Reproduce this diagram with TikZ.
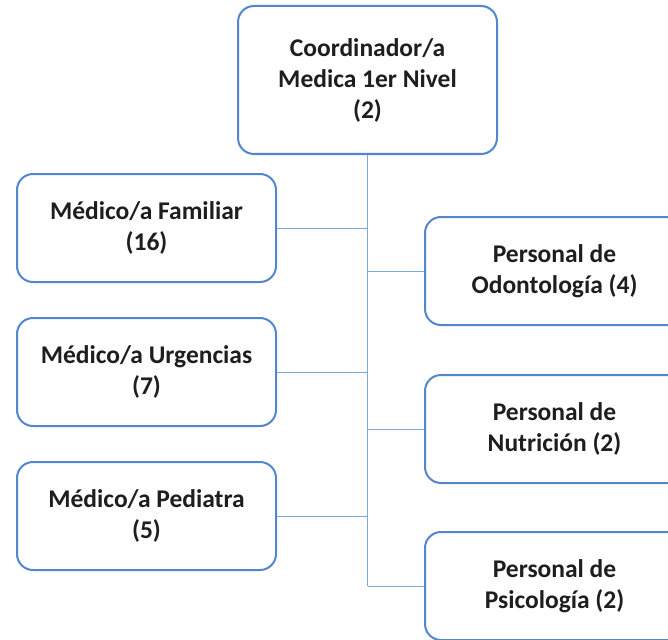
\documentclass[tikz,border=0pt]{standalone}
\usepackage{fontspec}
\setmainfont{Carlito}
\usepackage{tikz}
\usetikzlibrary{positioning}
\definecolor{boxblue}{RGB}{84,134,204}
\definecolor{lineblue}{RGB}{125,165,222}
\definecolor{inkgray}{RGB}{30,30,30}
\tikzstyle{unit} = [rectangle, draw=boxblue, line width=2pt, rounded corners=16pt,
fill=white, text=inkgray, align=center, minimum width=259pt, minimum height=108pt,
font=\bfseries\fontsize{25.5}{31}\selectfont]
\tikzstyle{head} = [unit, minimum height=148pt]
\tikzstyle{link} = [draw=lineblue, line width=1pt]
\newcommand{\branchleft}[2]{ %
  % Connect nodes #2 to the trunk below #1.
  \foreach \x in {#2} { %
    \path (\x.east) edge [link] (\x.east -| #1.south) ;%
  } ;
}
\newcommand{\branchright}[2]{ %
  \foreach \x in {#2} { %
    \path (\x.west -| #1.south) edge [link] (\x.west) ;%
  } ;
}

\begin{document}
\begin{tikzpicture}[x=1pt,y=-1pt]
    \useasboundingbox (0,0) rectangle (668,639);
    \clip (0,0) rectangle (668,639);
    \node[head](coord) at (367.5,80) {Coordinador/a\\Medica 1er Nivel\\(2)};
    \node[unit](fam) at (146.5,228) {Médico/a Familiar\\(16)};
    \node[unit](urg) at (146.5,372) {Médico/a Urgencias\\(7)};
    \node[unit](ped) at (146.5,516) {Médico/a Pediatra\\(5)};
    \node[unit](odon) at (554.5,271) {Personal de\\Odontología (4)};
    \node[unit](nutri) at (554.5,429) {Personal de\\Nutrición (2)};
    \node[unit](psico) at (554.5,586) {Personal de\\Psicología (2)};
    %\draw[link] (coord) -- (psico);
    \path (coord.south) edge [link] (coord.south |- psico.west);
    \branchleft{coord}{fam,urg,ped}
    \branchright{coord}{odon,nutri,psico}
\end{tikzpicture}
\end{document}
